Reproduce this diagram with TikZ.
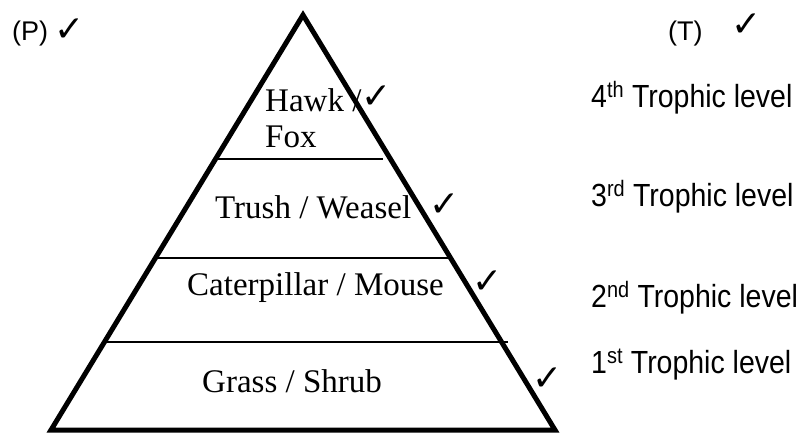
\documentclass[tikz,border=0pt]{standalone}
\usepackage{fontspec}
\setmainfont{Liberation Serif}
\setsansfont{Liberation Sans}
\newfontfamily\chkfont{DejaVu Sans}
\begin{document}
\begin{tikzpicture}[x=1pt,y=-1pt,
  lbl/.style={inner sep=0pt,anchor=base west,font=\rmfamily\fontsize{33}{38}\selectfont},
  trophic/.style={inner sep=0pt,anchor=base west,font=\sffamily\fontsize{32}{36}\selectfont},
  tag/.style={inner sep=0pt,anchor=base west,font=\sffamily\fontsize{27}{30}\selectfont},
  tick/.style={inner sep=0pt,anchor=center,font=\chkfont\fontsize{36}{40}\selectfont},
  divider/.style={line width=1.5pt},
  pyr/.style={line width=5pt,line join=miter}]
\useasboundingbox (0,0) rectangle (800,434);
% pyramid
\coordinate (apex) at (303,15);
\coordinate (bl) at (51,430);
\coordinate (br) at (555,430);
\draw[pyr] (apex) -- (br) -- (bl) -- cycle;
% dividers
\coordinate (d1a) at (218,159); \coordinate (d1b) at (383,159);
\coordinate (d2a) at (158,258); \coordinate (d2b) at (450,258);
\coordinate (d3a) at (107,342); \coordinate (d3b) at (508,342);
\draw[divider] (d1a) -- (d1b);
\draw[divider] (d2a) -- (d2b);
\draw[divider] (d3a) -- (d3b);
% labels
\node[lbl] (hawk) at (265,111) {Hawk /};
\node[lbl] (fox) at (265,147) {Fox};
\node[lbl] (trush) at (215,218) {Trush / Weasel};
\node[lbl] (cat) at (187,295) {Caterpillar / Mouse};
\node[lbl] (grass) at (202,392) {Grass / Shrub};
% ticks
\node[tick] (t0) at (377,97) {✓};
\node[tick] (t1) at (445,205) {✓};
\node[tick] (t2) at (488,282) {✓};
\node[tick] (t3) at (548,379) {✓};
% P and T
\node[tag] (P) at (12,40) {(P)};
\node[tick] (tp) at (70,30) {✓};
\node[tag] (T) at (668,40) {(T)};
\node[tick] (tt) at (747,25) {✓};
% trophic levels
\node[trophic] (l4) at (591,107) {\scalebox{0.89}[1]{4\textsuperscript{th} Trophic level}};
\node[trophic] (l3) at (591,206) {\scalebox{0.89}[1]{3\textsuperscript{rd} Trophic level}};
\node[trophic] (l2) at (591,307) {\scalebox{0.89}[1]{2\textsuperscript{nd} Trophic level}};
\node[trophic] (l1) at (591,373) {\scalebox{0.89}[1]{1\textsuperscript{st} Trophic level}};
\end{tikzpicture}
\end{document}
